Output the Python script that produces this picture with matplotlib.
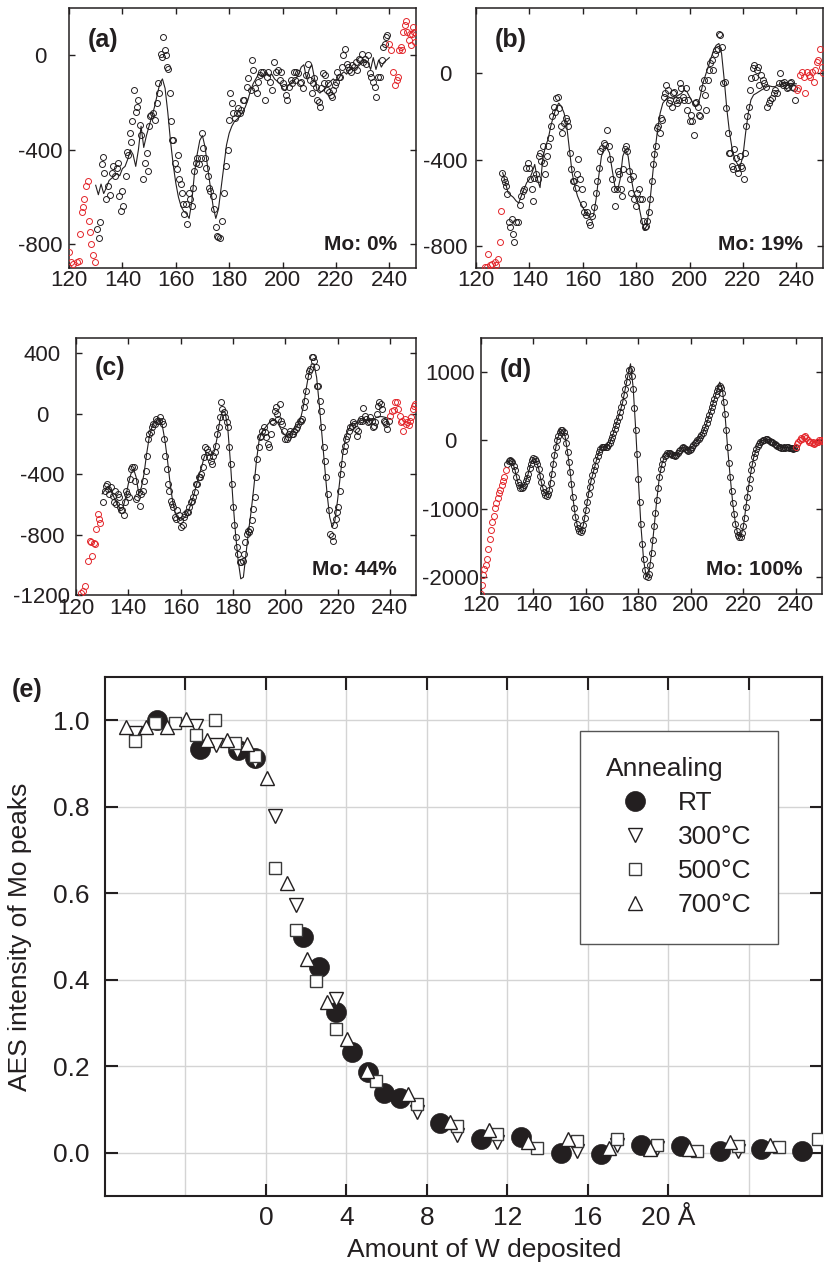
import numpy as np
import matplotlib
matplotlib.use("Agg")
import matplotlib.pyplot as plt
from matplotlib import font_manager

# ---------------- data: AES spectra (kinetic energy in eV, dN/dE) ----------------
fit_E = np.arange(130, 241)          # fit curves, 1 eV grid 130..240
d_black_E = np.arange(130, 240.5, 0.5)

# (a) Mo: 0%
a_fit = [-550, -590, -545, -585, -560, -530, -520, -510, -500, -510,
         -480, -470, -440, -400, -420, -470, -400, -300, -390, -340,
         -300, -260, -220, -170, -120, -100, -140, -240, -360, -460,
         -540, -600, -640, -660, -670, -690, -620, -500, -420, -360,
         -340, -390, -480, -560, -640, -690, -650, -560, -470, -380,
         -330, -300, -280, -270, -260, -240, -220, -190, -150, -120,
         -100, -80, -90, -90, -70, -90, -80, -100, -110, -120,
         -140, -150, -130, -120, -110, -100, -80, -50, -40, -100,
         -60, -40, -100, -150, -160, -150, -140, -120, -110, -100,
         -110, -100, -80, -70, -80, -60, -50, -60, -50, -40,
         -30, -20, -30, -60, -10, -60, -20, -50, -30, -20,
         -10]
a_black_E = [130.4, 131.4, 131.6, 132.2, 132.6, 133.1, 133.9, 134.7, 135.4, 136.0,
             136.6, 137.2, 138.1, 138.5, 138.8, 139.3, 139.8, 140.3, 141.3, 141.8,
             142.2, 142.8, 143.1, 143.7, 144.3, 145.1, 145.6, 146.0, 146.6, 147.0,
             147.8, 148.6, 149.1, 149.5, 150.0, 150.3, 150.9, 151.6, 152.2, 152.8,
             153.4, 153.8, 154.4, 154.9, 155.3, 155.9, 156.2, 156.6, 157.2, 157.8,
             158.2, 158.7, 159.1, 159.7, 160.3, 160.7, 161.3, 161.8, 162.3, 162.8,
             163.2, 163.7, 164.3, 164.8, 165.3, 165.9, 166.3, 166.8, 167.4, 168.0,
             168.7, 169.3, 169.7, 170.3, 170.9, 171.5, 172.0, 172.5, 173.0, 173.8,
             174.4, 175.0, 175.5, 176.0, 176.5, 177.2, 178.0, 178.8, 179.4, 180.0,
             180.5, 181.2, 181.5, 182.2, 182.8, 183.4, 184.0, 184.6, 185.0, 185.6,
             186.5, 187.1, 188.0, 188.5, 189.0, 189.6, 190.3, 190.9, 191.5, 192.1,
             192.8, 193.4, 194.0, 194.6, 195.3, 195.9, 196.8, 197.5, 198.4, 199.0,
             199.6, 200.0, 200.6, 201.2, 201.7, 202.5, 203.0, 203.7, 204.4, 204.7,
             205.2, 205.7, 206.5, 207.1, 207.7, 208.7, 209.5, 210.2, 210.9, 211.5,
             211.9, 212.5, 213.0, 213.5, 214.0, 214.5, 215.0, 215.5, 216.0, 216.5,
             217.1, 217.5, 218.0, 218.5, 219.0, 219.6, 220.0, 220.5, 221.0, 221.5,
             222.1, 222.7, 223.5, 224.0, 224.6, 225.0, 225.5, 226.2, 226.8, 227.5,
             228.0, 228.6, 229.0, 229.6, 230.2, 230.8, 231.4, 232.1, 232.7, 233.3,
             233.9, 234.6, 235.2, 235.8, 236.4, 237.1, 237.7, 238.3, 238.7, 239.2]
a_black = [-735, -774, -704, -459, -430, -497, -609, -553, -592, -497,
           -469, -511, -476, -455, -595, -658, -574, -637, -511, -410,
           -420, -329, -368, -280, -147, -242, -220, -189, -294, -336,
           -525, -455, -413, -489, -301, -259, -252, -245, -273, -203,
           -119, -161, 7, -7, 77, 21, 0, -49, -56, -161,
           -280, -357, -357, -455, -483, -420, -525, -546, -581, -630,
           -672, -630, -714, -581, -609, -637, -560, -490, -455, -434,
           -462, -434, -329, -392, -434, -476, -511, -560, -574, -595,
           -651, -728, -763, -770, -774, -700, -581, -469, -399, -273,
           -161, -203, -245, -266, -245, -224, -245, -231, -189, -189,
           -133, -98, -147, -21, -63, -140, -161, -112, -84, -70,
           -70, -189, -91, -70, -112, -147, -28, -70, -63, -105,
           -70, -119, -133, -168, -189, -133, -105, -119, -70, -105,
           -70, -77, -119, -112, -140, -84, -35, -105, -161, -119,
           -98, -133, -189, -196, -217, -140, -77, -119, -84, -147,
           -119, -154, -168, -175, -147, -126, -112, -70, -91, -91,
           -49, 0, 28, -35, -49, -63, -70, -42, -49, -28,
           -63, -14, -21, 7, -28, -14, -35, 0, -77, -91,
           -112, -133, -175, -91, -91, -18, 35, 49, 77, 84]
a_red_E = [120.0, 120.7, 121.6, 122.9, 123.7, 124.1, 124.9, 125.4, 125.7, 126.4,
           127.0, 127.5, 127.9, 128.4, 129.0, 129.6,
           239.9, 240.6, 241.4, 242.2, 242.7, 243.2, 243.7, 244.2, 244.7, 245.2,
           245.7, 246.2, 246.7, 247.2, 247.7, 248.0, 248.4, 248.9, 249.4, 249.8]
a_red = [-833, -875, -882, -875, -872, -756, -665, -644, -609, -553,
         -532, -700, -749, -798, -847, -875,
         49, 21, -70, -126, -105, -91, 21, 35, 21, 98,
         126, 147, 98, 63, 91, 42, 91, 119, 98, 56]

# (b) Mo: 19%
b_fit = [-460, -506, -552, -564, -574, -590, -600, -567, -536, -506,
         -491, -460, -422, -491, -529, -399, -338, -307, -246, -200,
         -162, -139, -155, -185, -246, -353, -460, -521, -567, -597,
         -620, -643, -659, -666, -659, -582, -475, -384, -346, -346,
         -368, -445, -521, -544, -491, -384, -353, -384, -475, -544,
         -582, -613, -674, -727, -704, -613, -491, -368, -262, -185,
         -139, -124, -109, -116, -116, -109, -101, -94, -78, -86,
         -109, -132, -155, -147, -109, -48, -9, 29, 67, 105,
         128, 136, 90, -32, -170, -277, -353, -399, -422, -429,
         -384, -277, -185, -124, -101, -94, -86, -78, -71, -63,
         -60, -63, -63, -55, -55, -48, -45, -48, -48, -50,
         -50]
b_black_E = [129.9, 130.4, 130.9, 131.2, 131.7, 132.4, 132.9, 133.4, 133.9, 134.4,
             135.1, 135.6, 136.4, 137.0, 137.5, 138.1, 138.7, 139.4, 139.7, 140.4,
             140.9, 141.4, 141.9, 142.5, 143.1, 143.5, 144.0, 144.5, 145.0, 145.5,
             146.0, 146.6, 147.1, 147.6, 148.1, 148.6, 149.1, 149.6, 150.1, 150.7,
             151.2, 151.7, 152.3, 153.0, 153.6, 154.1, 154.6, 155.1, 155.7, 156.3,
             156.8, 157.3, 157.8, 158.3, 159.1, 159.6, 160.1, 160.6, 161.2, 161.7,
             162.2, 162.8, 163.4, 164.1, 164.8, 165.3, 165.9, 166.6, 167.3, 167.8,
             168.4, 169.1, 169.8, 170.3, 170.9, 171.6, 172.2, 172.7, 173.2, 173.7,
             174.2, 174.7, 175.2, 175.7, 176.2, 176.7, 177.2, 177.7, 178.2, 178.7,
             179.3, 179.8, 180.3, 180.9, 181.5, 182.2, 182.7, 183.2, 183.7, 184.2,
             184.8, 185.3, 185.8, 186.3, 186.8, 187.3, 187.8, 188.3, 188.8, 189.3,
             189.8, 190.3, 190.8, 191.3, 191.8, 192.3, 192.8, 193.3, 193.8, 194.3,
             194.9, 195.3, 195.9, 196.3, 196.9, 197.5, 198.0, 198.5, 199.0, 199.5,
             200.0, 200.5, 201.0, 201.5, 202.0, 202.5, 203.0, 203.5, 204.0, 204.6,
             205.3, 205.8, 206.3, 206.8, 207.3, 207.8, 208.4, 208.9, 209.5, 210.0,
             210.5, 211.0, 211.5, 212.0, 212.5, 213.1, 213.6, 214.3, 214.8, 215.3,
             215.8, 216.3, 216.8, 217.3, 217.8, 218.3, 218.8, 219.3, 219.8, 220.3,
             220.7, 221.2, 221.7, 222.2, 222.7, 223.2, 223.7, 224.2, 224.7, 225.2,
             225.7, 226.2, 226.7, 227.4, 228.0, 228.5, 229.0, 229.6, 230.2, 230.8,
             231.5, 232.1, 232.7, 233.4, 234.0, 234.5, 235.0, 235.5, 236.0, 236.5,
             237.0, 237.5, 238.0, 238.5, 239.0, 239.6]
b_black = [-463, -491, -503, -521, -559, -689, -712, -674, -743, -778,
           -686, -686, -610, -567, -544, -536, -437, -414, -437, -491,
           -536, -590, -483, -468, -491, -384, -368, -407, -338, -414,
           -468, -384, -338, -300, -246, -200, -155, -178, -116, -109,
           -162, -246, -277, -231, -208, -223, -246, -368, -445, -498,
           -498, -529, -468, -399, -491, -536, -605, -643, -655, -643,
           -689, -701, -659, -620, -552, -498, -437, -361, -346, -323,
           -330, -262, -338, -399, -491, -536, -613, -536, -452, -468,
           -536, -567, -445, -353, -338, -361, -452, -491, -552, -475,
           -582, -613, -552, -536, -582, -582, -681, -712, -704, -681,
           -643, -582, -498, -422, -376, -338, -254, -246, -277, -208,
           -216, -109, -94, -55, -78, -139, -124, -155, -94, -86,
           -124, -139, -124, -48, -71, -109, -124, -71, -170, -124,
           -223, -193, -223, -284, -139, -132, -155, -193, -200, -71,
           -32, -101, -170, -32, 13, 44, 59, 13, 90, 105,
           113, 181, 174, 120, -48, -40, -162, -277, -368, -368,
           -429, -445, -353, -391, -437, -460, -384, -429, -437, -491,
           -368, -246, -200, -155, -78, -25, 21, 36, -17, 13,
           29, -55, -9, -32, -48, -63, -155, -139, -124, -116,
           -94, -78, -94, -48, -2, -48, -55, -40, -55, -71,
           -63, -48, -40, -63, -71, -124]
b_red_E = [123.5, 124.1, 124.4, 125.1, 126.0, 127.2, 127.6, 128.1, 128.9, 129.4,
           240.2, 240.8, 241.5, 242.1, 242.7, 243.3, 243.9, 244.6, 245.2, 245.8,
           246.5, 247.1, 247.7, 248.3, 249.0, 249.6, 249.9]
b_red = [-895, -895, -834, -888, -880, -872, -888, -857, -778, -636,
         -78, -71, -9, 6, -17, -94, 6, -9, -17, 6,
         -40, 13, 52, 59, 113, 29, -2]

# (c) Mo: 44%
c_fit = [-531, -509, -487, -498, -531, -575, -608, -630, -619, -553,
         -465, -399, -366, -421, -531, -487, -399, -267, -156, -90,
         -57, -42, -46, -79, -178, -311, -465, -586, -663, -696,
         -707, -696, -674, -641, -597, -542, -476, -410, -355, -289,
         -256, -267, -278, -245, -156, -46, 20, 9, -90, -311,
         -575, -796, -972, -1093, -1082, -928, -774, -641, -487, -311,
         -178, -123, -101, -79, -57, -46, -46, -57, -90, -123,
         -145, -145, -130, -112, -95, -68, -24, 53, 163, 262,
         328, 328, 240, 64, -134, -333, -531, -685, -751, -707,
         -575, -421, -267, -167, -112, -79, -68, -64, -57, -46,
         -42, -46, -46, -42, -35, -24, -20, -20, -24, -29,
         -35]
c_black_E = [130.5, 131.1, 131.4, 131.8, 132.3, 132.8, 133.3, 134.0, 134.4, 134.9,
             135.4, 135.9, 136.4, 136.8, 137.2, 137.7, 138.2, 138.7, 139.1, 139.6,
             140.1, 140.5, 141.0, 141.5, 142.0, 142.5, 143.0, 143.5, 144.0, 144.5,
             145.0, 145.5, 146.1, 146.6, 147.1, 147.6, 148.1, 148.6, 149.1, 149.6,
             150.1, 150.6, 151.1, 151.6, 152.2, 152.7, 153.2, 153.7, 154.2, 154.7,
             155.2, 155.7, 156.2, 156.7, 157.2, 157.7, 158.3, 158.8, 159.3, 159.8,
             160.3, 160.8, 161.3, 161.8, 162.3, 162.8, 163.3, 163.8, 164.4, 164.9,
             165.4, 165.9, 166.4, 166.9, 167.4, 167.9, 168.4, 168.9, 169.4, 169.9,
             170.5, 171.0, 171.5, 172.0, 172.5, 173.0, 173.5, 174.0, 174.5, 175.0,
             175.5, 176.0, 176.6, 177.1, 177.6, 178.1, 178.6, 179.1, 179.6, 180.1,
             180.6, 181.1, 181.6, 182.1, 182.7, 183.2, 183.7, 184.2, 184.7, 185.2,
             185.7, 186.2, 186.7, 187.2, 187.7, 188.3, 188.8, 189.3, 189.8, 190.3,
             190.8, 191.3, 191.8, 192.3, 192.8, 193.3, 193.8, 194.4, 194.9, 195.4,
             195.9, 196.4, 196.9, 197.4, 197.9, 198.4, 198.9, 199.4, 199.9, 200.5,
             201.0, 201.5, 202.0, 202.5, 203.0, 203.5, 204.0, 204.5, 205.0, 205.5,
             206.0, 206.6, 207.1, 207.6, 208.1, 208.6, 209.1, 209.6, 210.1, 210.6,
             211.1, 211.6, 212.1, 212.7, 213.2, 213.7, 214.2, 214.7, 215.2, 215.7,
             216.2, 216.7, 217.2, 217.7, 218.2, 218.8, 219.3, 219.8, 220.3, 220.8,
             221.3, 221.8, 222.3, 222.8, 223.3, 223.8, 224.3, 224.9, 225.4, 225.9,
             226.4, 226.9, 227.4, 227.9, 228.4, 228.9, 229.4, 229.9, 230.4, 230.9,
             231.5, 232.0, 232.5, 233.0, 233.5, 234.0, 234.5, 235.0, 235.5, 236.0,
             236.5, 237.0, 237.6, 238.1, 238.6, 239.1, 239.6]
c_black = [-586, -509, -476, -465, -498, -531, -487, -542, -586, -509,
           -597, -531, -553, -619, -641, -641, -674, -586, -509, -531,
           -553, -432, -366, -355, -355, -443, -564, -553, -520, -608,
           -531, -509, -443, -377, -278, -167, -134, -123, -90, -68,
           -68, -35, -46, -46, -24, -46, -68, -167, -278, -366,
           -465, -509, -575, -597, -619, -685, -696, -641, -674, -707,
           -751, -740, -685, -663, -652, -652, -619, -586, -575, -553,
           -520, -465, -465, -421, -421, -399, -355, -289, -223, -234,
           -256, -289, -311, -333, -278, -256, -212, -134, -90, -24,
           75, 31, 9, -24, -57, -90, -223, -333, -465, -619,
           -740, -818, -884, -928, -983, -983, -972, -928, -851, -796,
           -774, -785, -763, -707, -630, -553, -421, -300, -223, -156,
           -145, -112, -90, -123, -156, -201, -223, -134, -46, -57,
           20, 42, -2, -35, 64, -46, -68, -112, -167, -167,
           -156, -134, -112, -134, -134, -112, -101, -90, -68, -46,
           -46, -35, 42, 86, 152, 251, 284, 295, 373, 373,
           351, 306, 185, 185, 86, 20, -90, -223, -311, -421,
           -531, -641, -796, -807, -840, -740, -696, -652, -619, -509,
           -399, -333, -245, -212, -167, -145, -112, -90, -79, -57,
           -68, -101, -145, -112, -46, -35, -46, 37, -13, -35,
           -57, -46, -24, -46, -90, -79, -57, -2, 53, 75,
           64, 31, -46, -57, -68, -101, -46]
c_red_E = [121.9, 122.7, 123.4, 124.7, 125.2, 125.7, 126.2, 126.7, 127.2, 127.6,
           128.3, 128.8, 129.3,
           240.1, 240.9, 241.6, 242.0, 242.6, 243.3, 243.7, 244.2, 244.7, 245.2,
           245.7, 246.2, 246.7, 247.2, 247.7, 248.2, 248.7, 249.3, 249.8]
c_red = [-1188, -1175, -1142, -972, -840, -851, -939, -857, -862, -763,
         -663, -696, -725,
         -13, 20, 24, 75, 75, 31, -13, -57, -46, -112,
         -35, -68, -57, -73, -46, -24, 31, 53, 64]

# (d) Mo: 100%
d_fit = [-341, -293, -317, -439, -610, -683, -683, -610, -488, -341,
         -268, -293, -415, -610, -756, -805, -732, -488, -220, 0,
         122, 156, 73, -171, -463, -829, -1122, -1293, -1341, -1244,
         -1024, -780, -585, -439, -293, -171, -98, -88, -88, -49,
         49, 171, 293, 415, 561, 756, 951, 1122, 780, 146,
         -585, -1268, -1756, -2000, -1951, -1659, -1268, -878, -537, -341,
         -234, -195, -185, -205, -220, -195, -146, -98, -122, -146,
         -122, -73, -24, 24, 73, 146, 244, 366, 488, 610,
         732, 854, 756, 390, -98, -537, -927, -1220, -1390, -1415,
         -1268, -976, -683, -439, -244, -122, -49, -10, 10, 20,
         0, -24, -49, -73, -98, -107, -107, -98, -107, -122,
         -112]
d_black = [-340, -300, -290, -300, -320, -370, -440, -530, -610, -660,
           -690, -700, -680, -650, -600, -550, -490, -410, -340, -290,
           -265, -270, -300, -350, -420, -520, -610, -700, -760, -800,
           -810, -780, -730, -620, -490, -350, -220, -100, 0, 70,
           120, 150, 150, 120, 70, -40, -170, -320, -460, -640,
           -830, -990, -1120, -1230, -1290, -1330, -1340, -1310, -1240, -1140,
           -1020, -900, -780, -680, -590, -510, -440, -370, -290, -230,
           -170, -130, -100, -90, -90, -95, -90, -70, -40, 0,
           50, 110, 170, 230, 290, 350, 410, 490, 560, 660,
           750, 850, 950, 1030, 1050, 950, 760, 480, 150, -200,
           -560, -900, -1230, -1520, -1740, -1900, -1980, -2000, -1950, -1830,
           -1650, -1460, -1260, -1060, -870, -690, -540, -420, -340, -270,
           -230, -210, -190, -185, -190, -200, -210, -220, -230, -210,
           -190, -160, -140, -110, -100, -110, -125, -140, -150, -135,
           -120, -95, -70, -45, -25, 0, 25, 50, 75, 110,
           150, 200, 250, 310, 370, 430, 490, 550, 610, 670,
           720, 770, 790, 770, 700, 560, 380, 150, -100, -330,
           -540, -740, -920, -1080, -1220, -1320, -1390, -1420, -1410, -1360,
           -1260, -1130, -970, -830, -690, -560, -440, -340, -250, -180,
           -120, -80, -50, -25, -10, 5, 10, 20, 15, 5,
           -5, -20, -30, -45, -55, -65, -80, -95, -100, -110,
           -105, -100, -110, -100, -95, -105, -110, -115, -120, -115,
           -110]
d_red_E = [120.0, 120.4, 120.8, 121.3, 121.8, 122.3, 122.8, 123.3, 123.8, 124.3,
           124.8, 125.3, 125.8, 126.3, 126.8, 127.3, 127.9, 128.4, 128.9, 129.4,
           240.0, 240.5, 241.0, 241.5, 242.0, 242.5, 243.0, 243.5, 244.0, 244.5,
           245.0, 245.5, 246.0, 246.5, 247.0, 247.5, 248.0, 248.5, 249.0, 249.5, 250.0]
d_red = [-2244, -2122, -1976, -1878, -1829, -1732, -1585, -1439, -1317, -1195,
         -1112, -985, -917, -839, -771, -722, -659, -595, -537, -439,
         -100, -60, -20, 10, 30, 20, 50, 60, 30, 10,
         -20, -30, -40, -20, -50, -40, -20, -30, 0, 10, -10]

# (e) AES intensity of Mo peaks vs amount of W deposited
rt_x = [-5.4, -3.3, -1.4, -0.55, 1.86, 2.65, 3.48, 4.26, 5.06, 5.87, 6.67,
        8.66, 10.68, 12.67, 14.66, 16.65, 18.63, 20.63, 22.6, 24.6, 26.65]
rt_y = [1.000, 0.933, 0.931, 0.912, 0.498, 0.430, 0.325, 0.233, 0.187, 0.138, 0.127,
        0.068, 0.032, 0.036, 0.000, -0.002, 0.018, 0.015, 0.005, 0.009, 0.005]
t300_x = [-6.52, -3.48, -2.49, -1.45, -0.55, 0.46, 1.48, 3.48, 7.5, 9.49, 11.48,
          15.46, 17.48, 19.47, 23.45]
t300_y = [0.971, 0.987, 0.943, 0.928, 0.905, 0.779, 0.573, 0.356, 0.094, 0.040, 0.026,
          0.005, 0.018, 0.012, 0.005]
s500_x = [-6.52, -5.52, -4.53, -3.48, -2.54, -1.53, -0.55, 0.46, 1.48, 2.47, 3.48, 5.47,
          7.5, 9.49, 11.48, 13.5, 15.49, 17.48, 19.47, 21.45, 23.45, 25.49, 27.43]
s500_y = [0.953, 0.994, 0.994, 0.966, 1.000, 0.947, 0.917, 0.658, 0.515, 0.397, 0.285, 0.167,
          0.113, 0.063, 0.044, 0.011, 0.028, 0.031, 0.018, 0.005, 0.015, 0.013, 0.031]
t700_x = [-6.97, -5.94, -4.94, -3.95, -2.92, -1.93, -0.93, 0.07, 1.06, 2.06, 3.05, 4.05,
          5.01, 7.08, 9.15, 11.11, 13.05, 15.04, 17.08, 19.1, 21.05, 23.08, 25.07]
t700_y = [0.984, 0.984, 0.984, 1.003, 0.954, 0.954, 0.944, 0.866, 0.624, 0.449, 0.349, 0.264,
          0.19, 0.135, 0.072, 0.052, 0.025, 0.031, 0.011, 0.009, 0.009, 0.025, 0.017]
legend_labels = ["RT", "300°C", "500°C", "700°C"]

spec_xticks = [120, 140, 160, 180, 200, 220, 240]
e_xticks = [0, 4, 8, 12, 16, 20]
e_xtick_labels = ["0", "4", "8", "12", "16", "20 Å"]
e_yticks = [0.0, 0.2, 0.4, 0.6, 0.8, 1.0]

# ---------------- style ----------------
names = {f.name for f in font_manager.fontManager.ttflist}
BASE = "Liberation Sans" if "Liberation Sans" in names else "DejaVu Sans"
NARROW = "Liberation Sans Narrow" if "Liberation Sans Narrow" in names else None
plt.rcParams["font.family"] = [BASE, "DejaVu Sans"]
plt.rcParams["axes.unicode_minus"] = False

INK = "#231f20"
RED = "#e3262b"

fig = plt.figure(figsize=(8.24, 12.67), dpi=100)


def spectrum_panel(rect, ylim, yticks, fit, bE, b, rE, r, tag, mo,
                   ypad, xpad, tag_xy, mo_xy):
    ax = fig.add_axes(rect)
    ax.plot(fit_E, fit, color=INK, lw=0.8, zorder=2)
    ax.plot(bE, b, ls="none", marker="o", ms=4.3, mfc="none", mec=INK,
            mew=0.7, zorder=3)
    ax.plot(rE, r, ls="none", marker="o", ms=4.3, mfc="none", mec=RED,
            mew=0.7, zorder=3)
    ax.set_xlim(120, 250)
    ax.set_ylim(*ylim)
    for s in ax.spines.values():
        s.set_color(INK)
        s.set_linewidth(1.1)
    ax.tick_params(direction="in", top=True, right=True, length=4, width=1,
                   colors=INK)
    ax.tick_params(axis="y", pad=ypad)
    ax.tick_params(axis="x", pad=xpad)
    if NARROW:
        ax.set_xticks(spec_xticks, labels=[str(v) for v in spec_xticks],
                      fontsize=19, family=NARROW)
    else:
        ax.set_xticks(spec_xticks, labels=[str(v) for v in spec_xticks],
                      fontsize=16)
    ax.set_yticks(yticks, labels=[str(v) for v in yticks], fontsize=16,
                  ha="center")
    ax.text(tag_xy[0], tag_xy[1], tag, transform=ax.transAxes, ha="left",
            va="center", fontsize=18, fontweight="bold", color=INK)
    ax.text(mo_xy[0], mo_xy[1], mo, transform=ax.transAxes, ha="right",
            va="baseline", fontsize=15, fontweight="bold", color=INK)
    return ax


W, H = 824.0, 1267.0


def rect(l, r, t, b):
    return [l / W, 1 - b / H, (r - l) / W, (b - t) / H]


spectrum_panel(rect(69, 416, 8, 268), (-900, 200), [0, -400, -800],
               a_fit, a_black_E, a_black, a_red_E, a_red, "(a)", "Mo: 0%",
               ypad=21, xpad=1.5, tag_xy=(0.055, 0.877), mo_xy=(0.945, 0.069))
spectrum_panel(rect(476, 823, 8, 268), (-900, 300), [0, -400, -800],
               b_fit, b_black_E, b_black, b_red_E, b_red, "(b)", "Mo: 19%",
               ypad=22, xpad=1.5, tag_xy=(0.055, 0.877), mo_xy=(0.942, 0.069))
spectrum_panel(rect(76, 416, 338, 595), (-1200, 500), [400, 0, -400, -800, -1200],
               c_fit, c_black_E, c_black, c_red_E, c_red, "(c)", "Mo: 44%",
               ypad=24.5, xpad=2.0, tag_xy=(0.056, 0.885), mo_xy=(0.944, 0.078))
spectrum_panel(rect(481, 822, 338, 594), (-2250, 1500), [1000, 0, -1000, -2000],
               d_fit, d_black_E, d_black, d_red_E, d_red, "(d)", "Mo: 100%",
               ypad=22, xpad=1.0, tag_xy=(0.056, 0.875), mo_xy=(0.944, 0.074))

# ---------------- panel (e) ----------------
ax = fig.add_axes(rect(105, 822, 677, 1196))
ax.plot(rt_x, rt_y, ls="none", marker="o", ms=14.4, mfc=INK, mec=INK,
        mew=0.5, label=legend_labels[0], zorder=3)
ax.plot(t300_x, t300_y, ls="none", marker="v", ms=9.6, mfc="white", mec=INK,
        mew=1.0, label=legend_labels[1], zorder=4)
ax.plot(s500_x, s500_y, ls="none", marker="s", ms=8.0, mfc="white", mec="#3a3a3a",
        mew=1.0, label=legend_labels[2], zorder=5)
ax.plot(t700_x, t700_y, ls="none", marker="^", ms=9.6, mfc="white", mec=INK,
        mew=1.0, label=legend_labels[3], zorder=6)
ax.set_xlim(-8.0, 27.65)
ax.set_ylim(-0.1, 1.1)
ax.set_xticks(e_xticks, labels=e_xtick_labels, fontsize=19)
ax.set_xticks([-4, 24], minor=True)
ax.set_yticks(e_yticks, labels=[f"{v:.1f}" for v in e_yticks], fontsize=19)
ax.set_axisbelow(True)
ax.grid(True, which="both", axis="x", color="#d4d4d4", lw=1.0)
ax.grid(True, which="major", axis="y", color="#d4d4d4", lw=1.0)
for s in ax.spines.values():
    s.set_color(INK)
    s.set_linewidth(1.5)
ax.tick_params(which="major", direction="in", length=9, width=1.5, top=True,
               right=True, colors=INK)
ax.tick_params(which="minor", direction="in", length=9, width=1.5, top=True,
               bottom=False, colors=INK)
ax.tick_params(axis="x", pad=7.5)
ax.tick_params(axis="y", pad=11)
ax.set_ylabel("AES intensity of Mo peaks", fontsize=19, color=INK)
ax.yaxis.set_label_coords(-0.102, 0.5)
ax.set_xlabel("Amount of W deposited", fontsize=19, color=INK)
ax.xaxis.set_label_coords(0.5286, -0.081)
leg = ax.legend(title="Annealing", loc="upper left", bbox_to_anchor=(0.6625, 0.896),
                fontsize=19, title_fontsize=19, alignment="left", frameon=True,
                fancybox=False, edgecolor="#555555", framealpha=1,
                borderpad=1.0, labelspacing=0.38, handlelength=2.15,
                handletextpad=0.56, borderaxespad=0.0)
leg.get_frame().set_linewidth(1.0)
for t in leg.get_texts():
    t.set_color(INK)
leg.get_title().set_color(INK)
fig.text(12 / W, 1 - 690 / H, "(e)", ha="left", va="center", fontsize=18,
         fontweight="bold", color=INK)

fig.savefig("out.png", dpi=100)
